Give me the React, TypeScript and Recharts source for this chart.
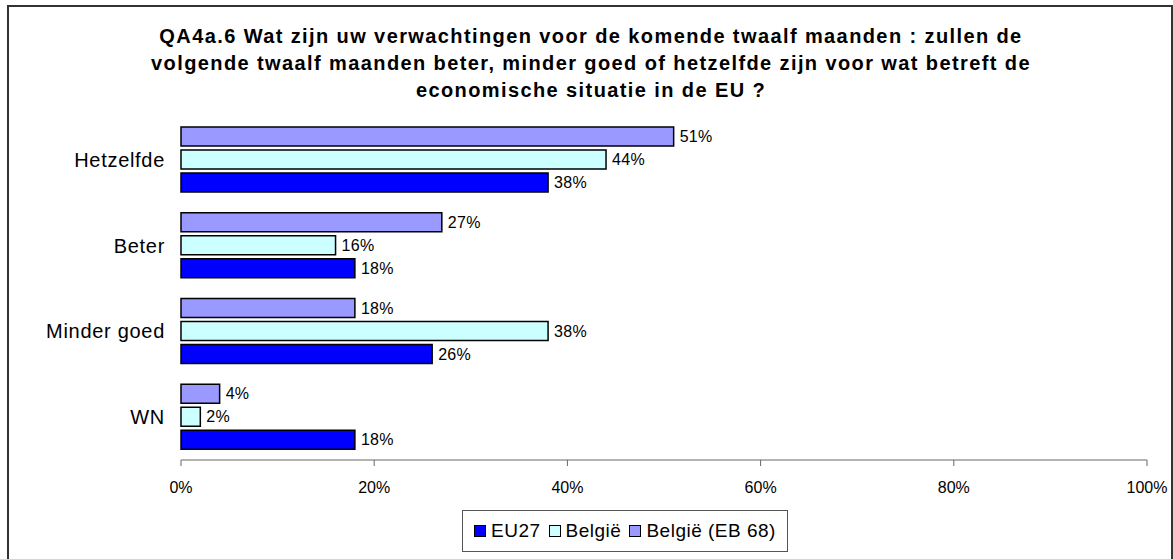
import { Bar, BarChart, LabelList, Legend, XAxis, YAxis } from "recharts";

const categories = ["Hetzelfde", "Beter", "Minder goed", "WN"];
const eu27 = [38, 18, 26, 18];
const belgie = [44, 16, 38, 2];
const belgieEb68 = [51, 27, 18, 4];
const xTicks = [0, 20, 40, 60, 80, 100];
const titleLines = [
  "QA4a.6 Wat zijn uw verwachtingen voor de komende twaalf maanden : zullen de",
  "volgende twaalf maanden beter, minder goed of hetzelfde zijn voor wat betreft de",
  "economische situatie in de EU ?",
];

// legend order differs from the bar order (top to bottom)
const series = [
  { key: "eu27", name: "EU27", color: "#0000FF" },
  { key: "belgie", name: "België", color: "#CCFFFF" },
  { key: "belgieEb68", name: "België (EB 68)", color: "#9999FF" },
];

const data = categories.map((name, i) => ({
  name,
  eu27: eu27[i],
  belgie: belgie[i],
  belgieEb68: belgieEb68[i],
}));

const FONT = "'Liberation Sans', Arial, sans-serif";

function ChartLegend() {
  return (
    <div
      style={{
        border: "1px solid #555",
        height: 42,
        display: "flex",
        alignItems: "center",
        justifyContent: "center",
        fontFamily: FONT,
        fontSize: 19,
        letterSpacing: 0.5,
        color: "#000",
        boxSizing: "border-box",
      }}
    >
      {series.map((s, i) => (
        <span
          key={s.key}
          style={{
            display: "flex",
            alignItems: "center",
            marginRight: i < series.length - 1 ? 8 : 0,
          }}
        >
          <span
            style={{
              width: 10,
              height: 10,
              background: s.color,
              border: "1.5px solid #000",
              marginRight: 5,
            }}
          />
          {s.name}
        </span>
      ))}
    </div>
  );
}

export default function App() {
  return (
    <div
      style={{
        position: "absolute",
        left: 0,
        top: 0,
        width: 1173,
        height: 559,
        background: "#fff",
        overflow: "hidden",
      }}
    >
      <div
        style={{
          position: "absolute",
          left: 7,
          top: 5,
          width: 1162,
          height: 570,
          border: "2px solid #333",
        }}
      />
      <div
        style={{
          position: "absolute",
          left: 0,
          top: 23,
          width: 1182,
          textAlign: "center",
          fontFamily: FONT,
          fontWeight: "bold",
          fontSize: 20,
          letterSpacing: 1.4,
          lineHeight: "27px",
          color: "#000",
        }}
      >
        {titleLines.map((l) => (
          <div key={l}>{l}</div>
        ))}
      </div>
      <BarChart
        width={1173}
        height={559}
        data={data}
        layout="vertical"
        margin={{ top: 117, right: 26, left: 0, bottom: 69 }}
        barSize={19}
        barGap={4}
        style={{ position: "absolute", left: 0, top: 0 }}
      >
        <XAxis
          type="number"
          domain={[0, 100]}
          ticks={xTicks}
          tickFormatter={(v) => `${v}%`}
          height={30}
          stroke="#666"
          tickSize={6}
          tickMargin={16}
          tick={{ fontSize: 16, fill: "#000", fontFamily: FONT }}
          interval={0}
        />
        <YAxis
          type="category"
          dataKey="name"
          width={181}
          axisLine={false}
          tickLine={false}
          tickSize={0}
          tickMargin={16}
          tick={{
            fontSize: 20,
            fill: "#000",
            fontFamily: FONT,
            letterSpacing: 0.7,
          }}
        />
        <Legend
          layout="horizontal"
          verticalAlign="middle"
          align="center"
          wrapperStyle={{ top: 510, left: 462, width: 326 }}
          content={() => <ChartLegend />}
        />
        {[...series].reverse().map((s) => (
          <Bar
            key={s.key}
            dataKey={s.key}
            name={s.name}
            fill={s.color}
            stroke="#000"
            strokeWidth={1.5}
            isAnimationActive={false}
          >
            <LabelList
              dataKey={s.key}
              position="right"
              offset={6}
              formatter={(v: number) => `${v}%`}
              style={{
                fontSize: 16,
                fill: "#000",
                fontFamily: FONT,
                letterSpacing: 0.3,
              }}
            />
          </Bar>
        ))}
      </BarChart>
    </div>
  );
}
